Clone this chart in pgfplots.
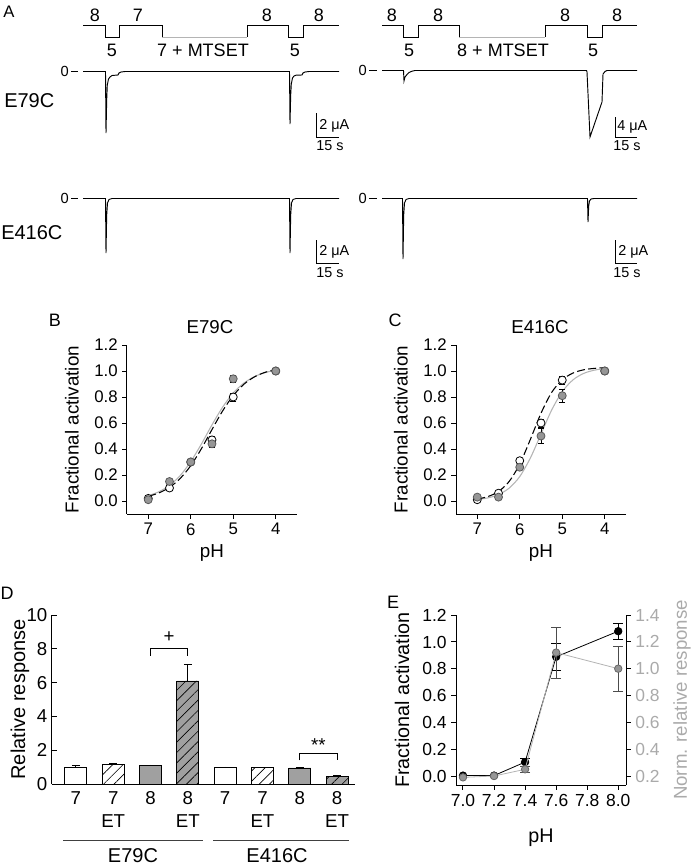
\documentclass[border=0pt]{standalone}
\usepackage{fontspec}
\setmainfont{Liberation Sans}
\usepackage{pgfplots}
\pgfplotsset{compat=1.18}
\usetikzlibrary{patterns.meta}
\definecolor{mgray}{RGB}{150,150,150}
\definecolor{lgray}{RGB}{180,180,180}
\definecolor{bgray}{RGB}{160,160,160}
\definecolor{tgray}{RGB}{170,170,170}
\newcommand{\fs}[1]{\fontsize{#1}{#1}\selectfont}
\pgfplotsset{
  panel/.style={scale only axis, clip=false,
    axis line style={-, line width=0.75pt},
    tick style={black, line width=0.75pt},
    /pgf/number format/assume math mode=true},
}
\begin{document}
\begin{tikzpicture}[x=0.75pt,y=-0.75pt]
\useasboundingbox (0,0) rectangle (693,867);
\coordinate (pA) at (0,0);
\coordinate (pB) at (127,514);
\coordinate (pC) at (456,514);
\coordinate (pD) at (52,784);
\coordinate (pE) at (456,785);
% ================= Panel A =================
\begin{axis}[at={(pA)}, anchor=north west, scale only axis, width=519.75pt, height=225pt,
  xmin=0, xmax=693, ymin=0, ymax=300, y dir=reverse, hide axis, clip=false]
% protocols
\addplot[black, line width=0.7pt] coordinates {(83,25)(105,25)(105,37)(119,37)(119,25)(162,25)(162,37)};
\addplot[lgray, line width=0.7pt] coordinates {(162,37)(247,37)};
\addplot[black, line width=0.7pt] coordinates {(247,37)(247,25)(288,25)(288,37)(303,37)(303,25)(339,25)};
\addplot[black, line width=0.7pt] coordinates {(382,25)(403,25)(403,37)(418,37)(418,25)(459,25)(459,37)};
\addplot[lgray, line width=0.7pt] coordinates {(459,37)(545,37)};
\addplot[black, line width=0.7pt] coordinates {(545,37)(545,25)(587,25)(587,37)(602,37)(602,25)(637,25)};
% E79C left
\addplot[black, line width=0.7pt] coordinates {(83,71.5)(105.5,71.5)(106,133)(106.7,100)(107.3,85)(108.5,79)(110,77)(112,75.5)(118,75)(119,73)(121,72)(125,71.5)
 (289.5,71.5)(290,124)(290.7,95)(291.3,84)(292.5,78)(294,76)(296,75.2)(302,75)(303,73)(305,72)(309,71.5)(339,71.5)};
% E416C left
\addplot[black, line width=0.7pt] coordinates {(83,198.5)(105.5,198.5)(106,253)(106.7,215)(107.5,203)(109,199.5)(112,198.5)(289.5,198.5)(290,253)(290.7,215)(291.5,203)(293,199.5)(296,198.5)(339,198.5)};
% E79C right
\addplot[black, line width=0.7pt] coordinates {(382,70.5)(403.5,70.5)(404,81)(405,77)(407,74.5)(409,72.5)(412,71.2)(415,70.5)(586.5,70.5)(587,72)(590,137)(602,102)(603,74)(605,71.5)(607,70.5)(637,70.5)};
% E416C right
\addplot[black, line width=0.7pt] coordinates {(382,198.5)(402.5,198.5)(403,259)(403.7,215)(404.5,203)(406,199.5)(409,198.5)(587.5,198.5)(588,222)(588.7,206)(589.5,201)(591,199)(594,198.5)(637,198.5)};
% scale bars
\addplot[black, line width=0.7pt] coordinates {(316,113)(316,137)(339,137)};
\addplot[black, line width=0.7pt] coordinates {(316,240)(316,263)(339,263)};
\addplot[black, line width=0.7pt] coordinates {(615,117)(615,137)(637,137)};
\addplot[black, line width=0.7pt] coordinates {(615,240)(615,263)(637,263)};
% zero ticks
\addplot[black, line width=0.7pt] coordinates {(71,71.5)(78,71.5)};
\addplot[black, line width=0.7pt] coordinates {(71,198.5)(78,198.5)};
\addplot[black, line width=0.7pt] coordinates {(369,70.5)(377,70.5)};
\addplot[black, line width=0.7pt] coordinates {(369,198.5)(377,198.5)};
\end{axis}
\begin{scope}[every node/.style={inner sep=0pt}]
\node[font=\fs{12.5}] at (9,12) {A};
\node[font=\fs{13.5}] at (95,15) {8};
\node[font=\fs{13.5}] at (138,15) {7};
\node[font=\fs{13.5}] at (112,50) {5};
\node[font=\fs{13.5}] at (203,50) {7 + MTSET};
\node[font=\fs{13.5}] at (267,15) {8};
\node[font=\fs{13.5}] at (295,50) {5};
\node[font=\fs{13.5}] at (319,15) {8};
\node[font=\fs{13.5}] at (392,15) {8};
\node[font=\fs{13.5}] at (438,15) {8};
\node[font=\fs{13.5}] at (409,50) {5};
\node[font=\fs{13.5}] at (503,50) {8 + MTSET};
\node[font=\fs{13.5}] at (565,15) {8};
\node[font=\fs{13.5}] at (593,50) {5};
\node[font=\fs{13.5}] at (617,15) {8};
\node[font=\fs{11}, anchor=east] at (69,71.5) {0};
\node[font=\fs{11}, anchor=east] at (367,70.5) {0};
\node[font=\fs{11}, anchor=east] at (69,198.5) {0};
\node[font=\fs{11}, anchor=east] at (367,198.5) {0};
\node[font=\fs{15}, anchor=west] at (4,101) {E79C};
\node[font=\fs{15}, anchor=west] at (1,233) {E416C};
\node[font=\fs{10.8}, anchor=west] at (319,126) {2 μA};
\node[font=\fs{10.8}, anchor=west] at (316,146) {15 s};
\node[font=\fs{10.8}, anchor=west] at (319,252) {2 μA};
\node[font=\fs{10.8}, anchor=west] at (316,273) {15 s};
\node[font=\fs{10.8}, anchor=west] at (617,127) {4 μA};
\node[font=\fs{10.8}, anchor=west] at (613,146) {15 s};
\node[font=\fs{10.8}, anchor=west] at (618,252) {2 μA};
\node[font=\fs{10.8}, anchor=west] at (613,273) {15 s};
% panel letters and titles
\node[font=\fs{13.5}] at (55,320) {B};
\node[font=\fs{13.5}] at (395,320) {C};
\node[font=\fs{13.5}] at (7,593) {D};
\node[font=\fs{13.5}] at (393,602) {E};
\node[font=\fs{14}] at (210,327) {E79C};
\node[font=\fs{14}] at (540,327) {E416C};
\end{scope}
% ================= Panel B =================
\pgfplotsset{bcstyle/.style={panel, width=127.5pt, height=126.75pt,
  axis lines*=left, tick align=outside, major tick length=3.5pt,
  x dir=reverse, xmin=3.5, xmax=7.5, ymin=-0.1, ymax=1.2,
  xtick={4,5,6,7}, ytick={0,0.2,0.4,0.6,0.8,1.0,1.2},
  yticklabel style={/pgf/number format/.cd, fixed, fixed zerofill, precision=1},
  tick label style={font=\fs{12.6}},
  label style={font=\fs{14.1}},
  xlabel={pH}, ylabel={Fractional activation},
  xlabel style={at={(axis description cs:0.5,-0.23)}, anchor=center},
  ylabel style={at={(axis description cs:-0.324,0.5)}, anchor=center}},
  openpts/.style={only marks, mark=*, mark size=3pt, mark options={fill=white, draw=black, line width=0.6pt},
   error bars/.cd, y dir=both, y explicit, error bar style={black, line width=0.6pt}, error mark options={rotate=90, mark size=2.2pt, black, line width=0.6pt}},
  graypts/.style={only marks, mark=*, mark size=3pt, mark options={fill=mgray, draw=black!65, line width=0.6pt},
   error bars/.cd, y dir=both, y explicit, error bar style={black, line width=0.6pt}, error mark options={rotate=90, mark size=2.2pt, black, line width=0.6pt}},
}
\begin{axis}[bcstyle, at={(pB)}, anchor=south west]
\addplot[lgray, line width=0.8pt, smooth] coordinates {(7.0,0.041)(6.75,0.071)(6.5,0.120)(6.25,0.195)(6.0,0.303)(5.75,0.438)(5.5,0.586)(5.25,0.722)(5.0,0.831)(4.75,0.907)(4.5,0.957)(4.25,0.988)(4.0,1.006)};
\addplot[black, line width=0.8pt, dash pattern=on 6pt off 2.5pt, smooth] coordinates {(7.0,0.036)(6.75,0.062)(6.5,0.105)(6.25,0.173)(6.0,0.272)(5.75,0.402)(5.5,0.550)(5.25,0.693)(5.0,0.811)(4.75,0.898)(4.5,0.955)(4.25,0.990)(4.0,1.011)};
\addplot[openpts] coordinates {(7,0.02) (6.5,0.10) (6,0.30) (5.5,0.47) +- (0,0.03) (5,0.80) +- (0,0.03) (4,1.0)};
\addplot[graypts] coordinates {(7,0.01) (6.5,0.15) (6,0.30) +- (0,0.02) (5.5,0.44) +- (0,0.03) (5,0.94) +- (0,0.03) (4,1.0)};
\end{axis}
% ================= Panel C =================
\begin{axis}[bcstyle, at={(pC)}, anchor=south west]
\addplot[lgray, line width=0.8pt, smooth] coordinates {(7.0,0.011)(6.75,0.024)(6.5,0.049)(6.25,0.099)(6.0,0.188)(5.75,0.331)(5.5,0.515)(5.25,0.699)(5.0,0.841)(4.75,0.931)(4.5,0.981)(4.25,1.006)(4.0,1.019)};
\addplot[black, line width=0.8pt, dash pattern=on 6pt off 2.5pt, smooth] coordinates {(7.0,0.015)(6.75,0.034)(6.5,0.073)(6.25,0.150)(6.0,0.284)(5.75,0.474)(5.5,0.675)(5.25,0.835)(5.0,0.932)(4.75,0.984)(4.5,1.009)(4.25,1.020)(4.0,1.026)};
\addplot[openpts] coordinates {(7,0.01) (6.5,0.06) (6,0.31) (5.5,0.60) +- (0,0.03) (5,0.93) +- (0,0.03) (4,1.0)};
\addplot[graypts] coordinates {(7,0.03) (6.5,0.03) (6,0.26) +- (0,0.02) (5.5,0.50) +- (0,0.06) (5,0.81) +- (0,0.05) (4,1.0)};
\end{axis}
% ================= Panel D =================
\begin{axis}[panel, at={(pD)}, anchor=south west, width=227.25pt, height=126.75pt,
  axis lines*=left, tick align=inside, major tick length=3.5pt,
  xmin=-0.64, xmax=7.48, ymin=0, ymax=10, ytick={0,2,4,6,8,10},
  xtick={0,1,2,3,4,5,6,7}, xticklabels={7,{7\\ET},8,{8\\ET},7,{7\\ET},8,{8\\ET}},
  xtick style={draw=none},
  xticklabel style={align=center, font=\fontsize{14}{17.25}\selectfont, anchor=north, yshift=-2pt},
  yticklabel style={font=\fs{14}},
  ylabel={Relative response}, ylabel style={font=\fs{15}, at={(axis description cs:-0.106,0.5)}, anchor=center}]
\addplot[ybar, bar width=16.5pt, bar shift=0pt, fill=white, draw=black, line width=0.6pt,
  error bars/.cd, y dir=plus, y explicit, error bar style={black, line width=0.6pt}, error mark options={rotate=90, mark size=3pt, black}]
  coordinates {(0,1.0) +- (0,0.08) (4,1.0) +- (0,0.02)};
\addplot[ybar, bar width=16.5pt, bar shift=0pt, fill=white, draw=black, line width=0.6pt,
  postaction={pattern={Lines[angle=45,distance=5.5pt,line width=0.5pt]}},
  error bars/.cd, y dir=plus, y explicit, error bar style={black, line width=0.6pt}, error mark options={rotate=90, mark size=3pt, black}]
  coordinates {(1,1.15) +- (0,0.06) (5,0.97) +- (0,0.02)};
\addplot[ybar, bar width=16.5pt, bar shift=0pt, fill=bgray, draw=black, line width=0.6pt,
  error bars/.cd, y dir=plus, y explicit, error bar style={black, line width=0.6pt}, error mark options={rotate=90, mark size=3pt, black}]
  coordinates {(2,1.1) +- (0,0.03) (6,0.95) +- (0,0.02)};
\addplot[ybar, bar width=16.5pt, bar shift=0pt, fill=bgray, draw=black, line width=0.6pt,
  postaction={pattern={Lines[angle=45,distance=5.5pt,line width=0.5pt]}},
  error bars/.cd, y dir=plus, y explicit, error bar style={black, line width=0.6pt}, error mark options={rotate=90, mark size=3pt, black}]
  coordinates {(3,6.1) +- (0,1.0) (7,0.45) +- (0,0.05)};
\addplot[black, line width=0.6pt] coordinates {(2,7.6)(2,8.05)(3,8.05)(3,7.6)};
\addplot[black, line width=0.6pt] coordinates {(6,1.4)(6,1.83)(7,1.83)(7,1.4)};
\node[font=\fs{14}] at (axis cs:2.5,8.7) {+};
\node[font=\fs{14}] at (axis cs:6.5,2.3) {**};
\end{axis}
\draw[black!75, line width=0.6pt] (63,840) -- (203,840);
\draw[black!75, line width=0.6pt] (213,840) -- (349,840);
\node[font=\fs{15}] at (133,856) {E79C};
\node[font=\fs{15}] at (277,856) {E416C};
% ================= Panel E =================
\begin{axis}[panel, at={(pE)}, anchor=south west, width=127.5pt, height=127.5pt,
  axis x line*=bottom, axis y line*=left, tick align=outside, major tick length=3.5pt,
  xmin=6.955, xmax=8.05, ymin=-0.06, ymax=1.2,
  xtick={7.0,7.2,7.4,7.6,7.8,8.0}, ytick={0,0.2,0.4,0.6,0.8,1.0,1.2},
  xticklabel style={/pgf/number format/.cd, fixed, fixed zerofill, precision=1},
  yticklabel style={/pgf/number format/.cd, fixed, fixed zerofill, precision=1},
  tick label style={font=\fs{13.1}},
  xlabel={pH}, ylabel={Fractional activation}, label style={font=\fs{14.8}},
  xlabel style={at={(axis description cs:0.5,-0.31)}, anchor=center},
  ylabel style={at={(axis description cs:-0.318,0.5)}, anchor=center}]
\addplot[black, line width=0.6pt, mark=*, mark size=2.8pt, mark options={fill=black},
  error bars/.cd, y dir=both, y explicit, error bar style={black, line width=0.6pt}, error mark options={rotate=90, mark size=3.75pt, black}]
  coordinates {(7.0,0.01) (7.2,0.01) (7.4,0.11) +- (0,0.03) (7.6,0.89) +- (0,0.10) (8.0,1.08) +- (0,0.06)};
\end{axis}
\begin{axis}[panel, at={(pE)}, anchor=south west, width=127.5pt, height=127.5pt,
  axis x line=none, axis y line*=right, tick align=outside, major tick length=3.5pt,
  xmin=6.955, xmax=8.05, ymin=0.133, ymax=1.4,
  ytick={0.2,0.4,0.6,0.8,1.0,1.2,1.4},
  yticklabel style={/pgf/number format/.cd, fixed, fixed zerofill, precision=1},
  tick label style={font=\fs{13.1}, text=tgray},
  ylabel={Norm. relative response}, label style={font=\fs{14}, text=tgray},
  ylabel style={at={(axis description cs:1.33,0.5)}, anchor=center}]
\addplot[lgray, line width=0.6pt, mark=*, mark size=2.8pt, mark options={fill=mgray, draw=black!60},
  error bars/.cd, y dir=both, y explicit, error bar style={black!70, line width=0.6pt}, error mark options={rotate=90, mark size=3.75pt, black!70}]
  coordinates {(7.0,0.19) (7.2,0.20) (7.4,0.25) +- (0,0.02) (7.6,1.12) +- (0,0.19) (8.0,1.00) +- (0,0.165)};
\end{axis}
\end{tikzpicture}
\end{document}
